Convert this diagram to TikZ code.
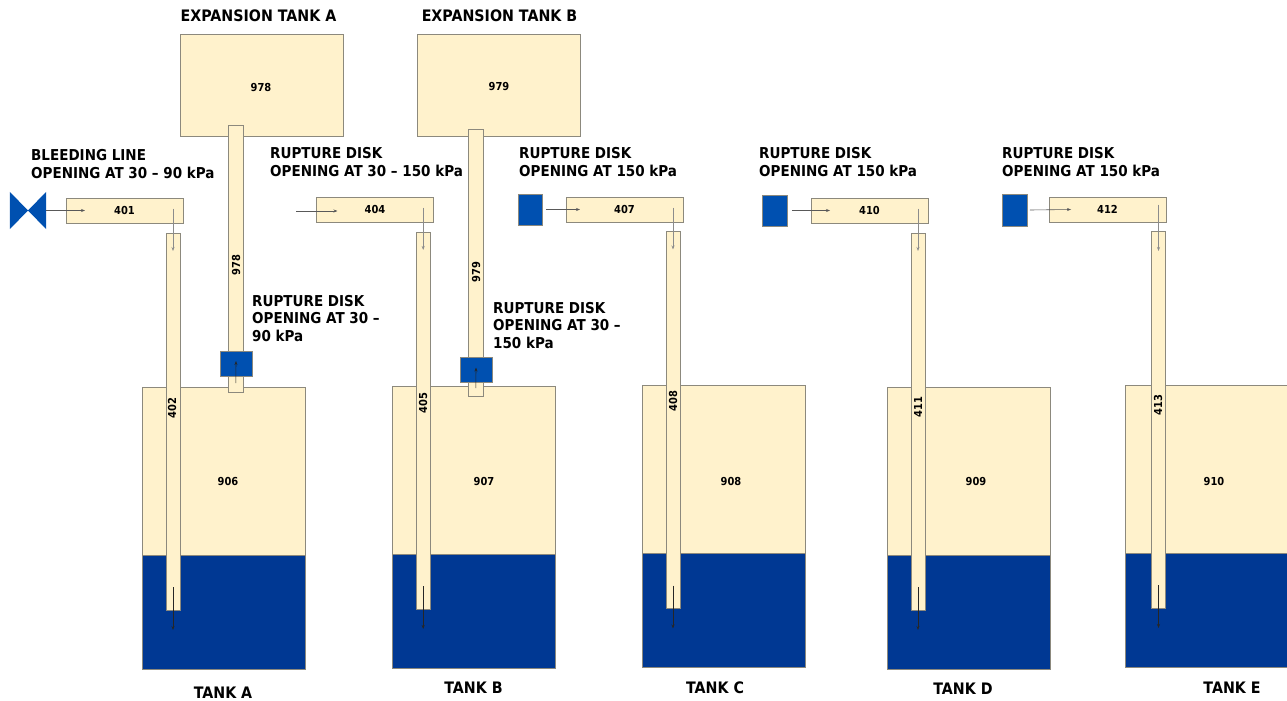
\documentclass[tikz,border=0pt]{standalone}
\usepackage{fontspec}
\setmainfont{DejaVu Sans}[FakeStretch=0.9]
\usetikzlibrary{arrows.meta, positioning}

\definecolor{cream}{RGB}{255, 242, 204}
\definecolor{water}{RGB}{0, 56, 147}
\definecolor{diskblue}{RGB}{0, 80, 176}
\definecolor{edge}{RGB}{140, 137, 125}

\begin{document}
\begin{tikzpicture}[
    x=1pt, y=-1pt,
    font=\bfseries\fontsize{15}{17.6}\selectfont,
    % --- Style Definitions ---
    box/.style={
        rectangle, draw=edge, fill=cream, line width=0.8pt,
        inner sep=0pt, outer sep=0pt
    },
    tankbox/.style={box, minimum width=163pt, minimum height=168pt},
    waterbox/.style={
        rectangle, fill=water, draw=edge, line width=0.4pt,
        inner sep=0pt, outer sep=0pt,
        minimum width=163pt, minimum height=114pt
    },
    exptank/.style={box, minimum width=163pt, minimum height=102pt},
    linebox/.style={
        box, minimum width=117pt, minimum height=25pt,
        font=\bfseries\fontsize{11}{12}\selectfont
    },
    dippipe/.style={box, minimum width=14pt, minimum height=377pt},
    ventpipe/.style={box, minimum width=14.5pt, minimum height=267pt},
    diskh/.style={
        rectangle, fill=diskblue, draw=edge, line width=0.3pt,
        inner sep=0pt, outer sep=0pt,
        minimum width=32pt, minimum height=25pt
    },
    diskv/.style={diskh, minimum width=24.5pt, minimum height=31.5pt},
    num/.style={font=\bfseries\fontsize{11}{12}\selectfont, inner sep=0pt},
    vnum/.style={num, rotate=90},
    caption/.style={align=left, anchor=west, inner sep=0pt},
    title/.style={inner sep=0pt, font=\bfseries\fontsize{15.8}{17.6}\selectfont},
    arrow/.style={
        -{Stealth[length=4pt,width=3pt]}, line width=0.6pt, color=black!65
    },
    droparrow/.style={arrow, line width=0.8pt, color=black!45},
    darkarrow/.style={arrow, line width=0.6pt, color=black!85}
]
\useasboundingbox (0,0) rectangle (1287,701);

% ================= Tanks =================
\node[tankbox] (tankA) at (223.5,471) {};
\node[waterbox, below=0pt of tankA] (waterA) {};
\node[tankbox] (tankB) at (473.5,470) {};
\node[waterbox, below=0pt of tankB] (waterB) {};
\node[tankbox] (tankC) at (723.5,469) {};
\node[waterbox, below=0pt of tankC] (waterC) {};
\node[tankbox] (tankD) at (968.5,471) {};
\node[waterbox, below=0pt of tankD] (waterD) {};
\node[tankbox] (tankE) at (1206.5,469) {};
\node[waterbox, below=0pt of tankE] (waterE) {};

\node[num] at (228,481) {906};
\node[num] at (484,481) {907};
\node[num] at (731,481) {908};
\node[num] at (976,481) {909};
\node[num] at (1214,481) {910};

\node[title, below=18pt of waterA.south, xshift=-0.5pt] (nameA) {TANK A};
\node[title, below=14pt of waterB.south] (nameB) {TANK B};
\node[title, below=15pt of waterC.south, xshift=-8.5pt] (nameC) {TANK C};
\node[title, below=14pt of waterD.south, xshift=-5.5pt] (nameD) {TANK D};
\node[title, below=15pt of waterE.south, xshift=25.5pt] (nameE) {TANK E};

% ================= Expansion Tanks =================
\node[exptank] (expA) at (261.5,85) {};
\node[exptank] (expB) at (498.5,85) {};
\node[num] at (261,87) {978};
\node[num] at (499,87) {979};
\node[title] at (258.5,16) {EXPANSION TANK A};
\node[title] at (499.5,16) {EXPANSION TANK B};

\node[ventpipe] (vent978) at (235.8,258.5) {};
\node[ventpipe] (vent979) at (475.8,262.5) {};
\node[vnum] at (236,265) {978};
\node[vnum] at (476,272) {979};
\node[diskh] (diskA) at (236,363.5) {};
\node[diskh] (diskB) at (476,370) {};

% ================= Dip Pipes =================
\node[dippipe] (dip402) at (173,421.5) {};
\node[dippipe] (dip405) at (423.2,420.5) {};
\node[dippipe] (dip408) at (673,420) {};
\node[dippipe] (dip411) at (918,421.5) {};
\node[dippipe] (dip413) at (1158.5,419.5) {};
\node[vnum] at (172,408) {402};
\node[vnum] at (423,403) {405};
\node[vnum] at (673,401) {408};
\node[vnum] at (918,407) {411};
\node[vnum] at (1158,405) {413};

% ================= Horizontal Lines =================
\node[linebox] (line401) at (124.5,210.5) {401};
\node[linebox] (line404) at (375,209.5) {404};
\node[linebox] (line407) at (624.5,209.5) {407};
\node[linebox] (line410) at (869.5,210.5) {410};
\node[linebox] (line412) at (1107.5,209.5) {412};

% ================= Valve and Disks =================
\node[inner sep=0pt, minimum width=36pt, minimum height=37pt] (valve) at (28,210.5) {};
\fill[diskblue] (valve.north west) -- (valve.south east) -- (valve.north east)
    -- (valve.south west) -- cycle;
\coordinate (start404) at (296,211);
\node[diskv] (disk407) at (530,209.5) {};
\node[diskv] (disk410) at (774.5,210.5) {};
\node[diskv] (disk412) at (1014.5,210) {};

% ================= Captions =================
\node[caption] at (31,164) {BLEEDING LINE\\OPENING AT 30 -- 90 kPa};
\node[caption] at (270,162) {RUPTURE DISK\\OPENING AT 30 -- 150 kPa};
\node[caption] at (519,162) {RUPTURE DISK\\OPENING AT 150 kPa};
\node[caption] at (759,162) {RUPTURE DISK\\OPENING AT 150 kPa};
\node[caption] at (1002,162) {RUPTURE DISK\\OPENING AT 150 kPa};
\node[caption] at (252,318.5) {RUPTURE DISK\\OPENING AT 30 --\\90 kPa};
\node[caption] at (493,325.5) {RUPTURE DISK\\OPENING AT 30 --\\150 kPa};

% ================= Connection Logic =================
% Into the horizontal lines
\draw[arrow] (valve.east) -- ([xshift=19pt]line401.west);
\draw[arrow] (start404) -- ([xshift=21pt,yshift=-1.5pt]line404.west);
\draw[arrow] ([xshift=4pt]disk407.east) -- ([xshift=14pt]line407.west);
\draw[arrow] ([xshift=5pt]disk410.east) -- ([xshift=19pt]line410.west);
\draw[arrow] ([xshift=3pt]disk412.east) -- ([xshift=22pt]line412.west);

% Down from the lines into the dip pipes
\draw[droparrow] ([yshift=2pt]line401.center -| dip402) -- ([yshift=-18pt]dip402.north);
\draw[droparrow] ([yshift=2pt]line404.center -| dip405) -- ([yshift=-18pt]dip405.north);
\draw[droparrow] ([yshift=2pt]line407.center -| dip408) -- ([yshift=-18pt]dip408.north);
\draw[droparrow] ([yshift=2pt]line410.center -| dip411) -- ([yshift=-18pt]dip411.north);
\draw[droparrow] ([yshift=5pt]line412.center -| dip413) -- ([yshift=-20pt]dip413.north);

% Out of the dip pipes, into the water
\draw[darkarrow] ([yshift=23pt]dip402.south) -- ([yshift=-20pt]dip402.south);
\draw[darkarrow] ([yshift=23pt]dip405.south) -- ([yshift=-20pt]dip405.south);
\draw[darkarrow] ([yshift=23pt]dip408.south) -- ([yshift=-20pt]dip408.south);
\draw[darkarrow] ([yshift=23pt]dip411.south) -- ([yshift=-20pt]dip411.south);
\draw[darkarrow] ([yshift=23pt]dip413.south) -- ([yshift=-20pt]dip413.south);

% Up through the rupture disks
\draw[darkarrow] ([yshift=9pt]vent978.south) -- ([yshift=-10pt]diskA.north);
\draw[darkarrow] ([yshift=8pt]vent979.south) -- ([yshift=-10pt]diskB.north);
\end{tikzpicture}
\end{document}
